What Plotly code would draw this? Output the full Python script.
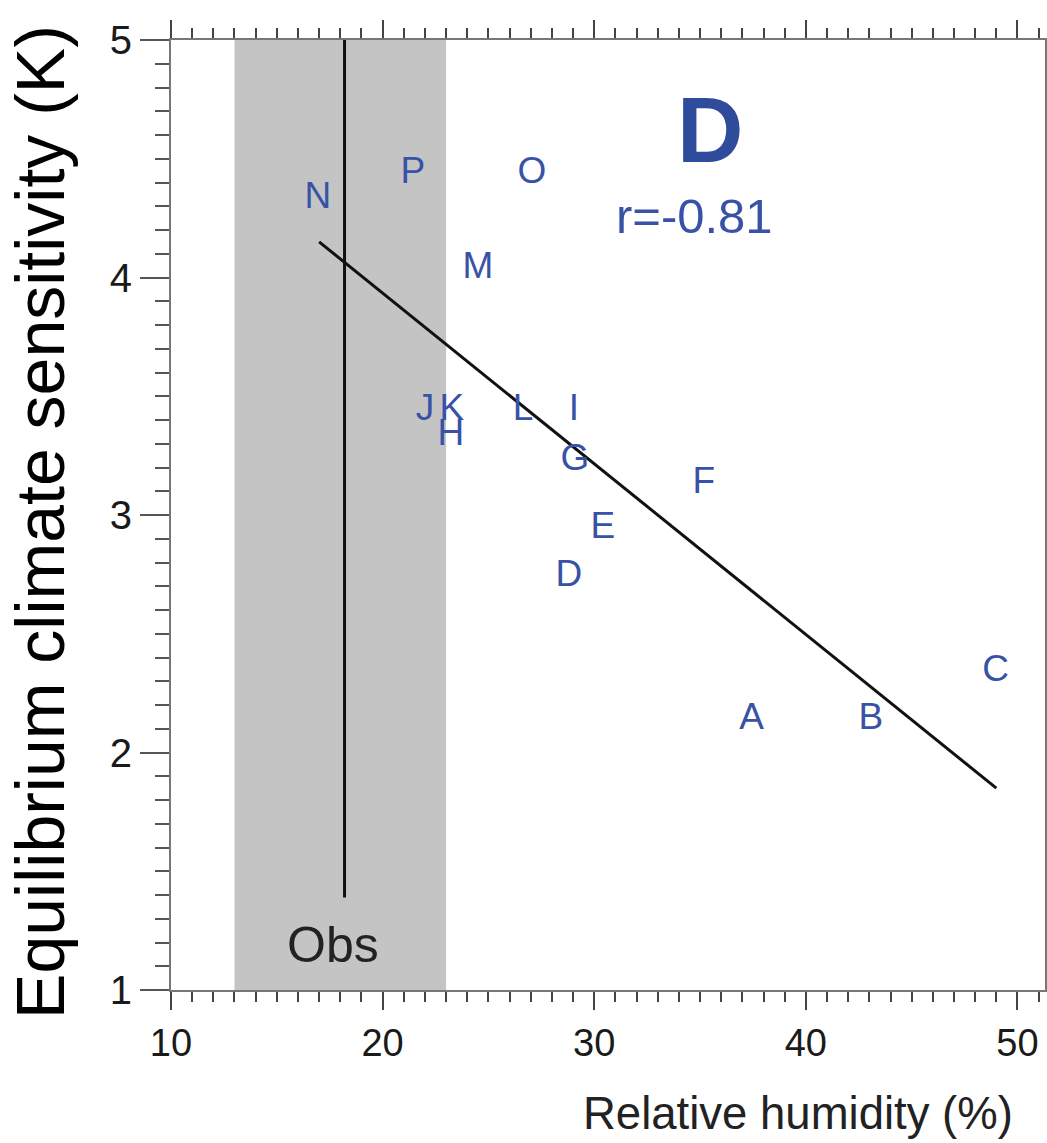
import plotly.graph_objects as go

# Model labels and their (relative humidity, ECS) positions
model_labels = ["A", "B", "C", "D", "E", "F", "G", "H", "I", "J", "K", "L", "M", "N", "O", "P"]
rel_humidity = [37.44, 43.07, 48.97, 28.80, 30.41, 35.18, 29.08, 23.23, 29.04, 22.00, 23.27, 26.63, 24.50, 16.94, 27.05, 21.43]
ecs = [2.137, 2.137, 2.339, 2.739, 2.941, 3.130, 3.227, 3.332, 3.438, 3.438, 3.438, 3.438, 4.036, 4.330, 4.436, 4.436]

# Regression line end points
fit_x = [17.0, 49.0]
fit_y = [4.15, 1.85]

# Observations: range band and central value
obs_range = [13.0, 23.0]
obs_center = 18.2
obs_line_y = [1.39, 5.0]

x_ticks = [10, 20, 30, 40, 50]
y_ticks = [1, 2, 3, 4, 5]

BLUE = "#3853A6"
FONT = "Liberation Sans, Arial, sans-serif"

fig = go.Figure()

# Obs band
fig.add_shape(type="rect", xref="x", yref="y", x0=obs_range[0], x1=obs_range[1], y0=1, y1=5,
              fillcolor="#C4C4C4", line=dict(width=0), layer="below")

# Obs central line
fig.add_trace(go.Scatter(x=[obs_center, obs_center], y=obs_line_y, mode="lines",
                         line=dict(color="#111111", width=3), showlegend=False, hoverinfo="skip"))

# Fit line
fig.add_trace(go.Scatter(x=fit_x, y=fit_y, mode="lines",
                         line=dict(color="#111111", width=3), showlegend=False, hoverinfo="skip"))

# Model letters
fig.add_trace(go.Scatter(x=rel_humidity, y=ecs, mode="text", text=model_labels,
                         textposition="middle center",
                         textfont=dict(family=FONT, size=37, color=BLUE),
                         showlegend=False))

fig.add_annotation(x=obs_center - 0.55, y=1.19, xref="x", yref="y", text="Obs", showarrow=False,
                   font=dict(family=FONT, size=50, color="#222222"))

fig.add_annotation(x=35.45, y=4.62, xref="x", yref="y", text="<b>D</b>", showarrow=False,
                   font=dict(family=FONT, size=92, color="#2F4B9C"))
fig.add_annotation(x=34.75, y=4.26, xref="x", yref="y", text="r=-0.81", showarrow=False,
                   font=dict(family=FONT, size=49, color=BLUE))

# Axis titles
fig.add_annotation(x=-0.15, y=0.4926, xref="paper", yref="paper", text="Equilibrium climate sensitivity (K)",
                   showarrow=False, textangle=-90, xanchor="center", yanchor="middle",
                   font=dict(family=FONT, size=68, color="#000000"))
fig.add_annotation(x=0.9657, y=-0.13, xref="paper", yref="paper", text="Relative humidity (%)",
                   showarrow=False, xanchor="right", yanchor="middle",
                   font=dict(family=FONT, size=45.5, color="#222222"))

fig.update_xaxes(range=[10, 51.3], tickvals=x_ticks, ticks="outside", ticklen=18, tickwidth=2,
                 tickcolor="#444444", showline=True, linecolor="#777777", linewidth=2,
                 mirror="ticks", showgrid=False, zeroline=False, automargin=False,
                 tickfont=dict(family=FONT, size=38, color="#1a1a1a"),
                 minor=dict(dtick=1, ticks="outside", ticklen=10, tickwidth=2, tickcolor="#444444", showgrid=False))
fig.update_yaxes(range=[1, 5], tickvals=y_ticks, ticks="outside", ticklen=29, tickwidth=2,
                 tickcolor="#555555", showline=True, linecolor="#777777", linewidth=2,
                 mirror=True, showgrid=False, zeroline=False, automargin=False,
                 tickfont=dict(family=FONT, size=40, color="#1a1a1a"),
                 minor=dict(dtick=0.1, ticks="outside", ticklen=14, tickwidth=2, tickcolor="#555555", showgrid=False))

fig.update_layout(width=1047, height=1143, margin=dict(l=171, r=2, t=40, b=153),
                  paper_bgcolor="white", plot_bgcolor="white", showlegend=False)

fig.write_html("out.html", config={"displayModeBar": False},
               post_script="document.body.style.margin='0px';document.body.style.overflow='hidden';")
